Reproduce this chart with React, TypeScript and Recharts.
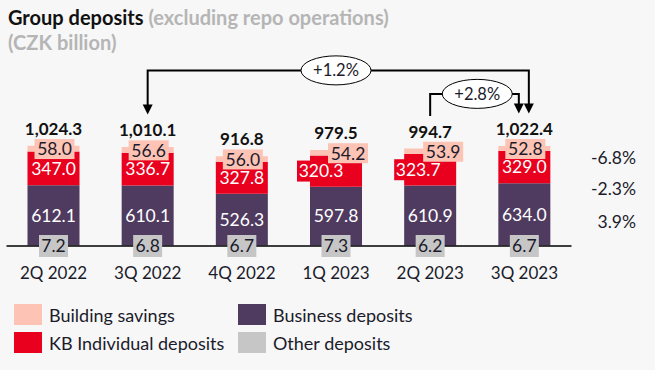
import React from "react";
import { BarChart, Bar, XAxis, YAxis, LabelList } from "recharts";

const quarters = ["2Q 2022", "3Q 2022", "4Q 2022", "1Q 2023", "2Q 2023", "3Q 2023"];
const otherDeposits = [7.2, 6.8, 6.7, 7.3, 6.2, 6.7];
const businessDeposits = [612.1, 610.1, 526.3, 597.8, 610.9, 634.0];
const individualDeposits = [347.0, 336.7, 327.8, 320.3, 323.7, 329.0];
const buildingSavings = [58.0, 56.6, 56.0, 54.2, 53.9, 52.8];
const totals = [1024.3, 1010.1, 916.8, 979.5, 994.7, 1022.4];
// year-on-year change, 3Q 2023: building savings, KB individual, business
const yoyChanges = ["-6.8%", "-2.3%", "3.9%"];
const growthFrom = ["3Q 2022", "2Q 2023"];
const growthTo = "3Q 2023";
const growthText = ["+1.2%", "+2.8%"];

const FONT = "Lato, 'Noto Sans', sans-serif";
const TEXT = "#1b1b2b";
const COLORS = {
  building: "#fdc3b5",
  individual: "#e8001e",
  business: "#4f3b5f",
  other: "#c6c6c6",
};

const series = [
  { key: "other", name: "Other deposits", color: COLORS.other },
  { key: "business", name: "Business deposits", color: COLORS.business },
  { key: "individual", name: "KB Individual deposits", color: COLORS.individual },
  { key: "building", name: "Building savings", color: COLORS.building },
];

const data = quarters.map((q, i) => ({
  quarter: q,
  other: otherDeposits[i],
  business: businessDeposits[i],
  individual: individualDeposits[i],
  building: buildingSavings[i],
  total: totals[i],
}));

// labels nudged sideways where they would collide in the original slide
const pinkShift = [1, 1, 1, 12, 13, 1];
const redShift = [0, 0, 0, -15, -12, 0];

// top-of-bar geometry, filled while the totals are drawn
const tops: Record<number, { cx: number; y: number }> = {};

function getBox(p: any) {
  const v = p.viewBox && p.viewBox.width != null ? p.viewBox : p;
  let x = Number(v.x), y = Number(v.y), w = Number(v.width), h = Number(v.height);
  if (h < 0) {
    y = y + h;
    h = -h;
  }
  return { x, y, w, h };
}

function boxText(text: string, cx: number, cy: number, w: number, h: number, fill: string | null, color: string) {
  return (
    <g>
      {fill && <rect x={cx - w / 2} y={cy - h / 2} width={w} height={h} fill={fill} />}
      <text
        x={cx}
        y={cy}
        dy="0.36em"
        textAnchor="middle"
        fontSize={17.5}
        fontFamily={FONT}
        fill={color}
      >
        {text}
      </text>
    </g>
  );
}

const otherLabel = (p: any) => {
  const b = getBox(p);
  const i = p.index;
  return boxText(otherDeposits[i].toFixed(1), b.x + b.w / 2, b.y + b.h, 29, 22, COLORS.other, TEXT);
};

const businessLabel = (p: any) => {
  const b = getBox(p);
  return boxText(businessDeposits[p.index].toFixed(1), b.x + b.w / 2, b.y + b.h / 2, 48, 21, null, "#fff");
};

const individualLabel = (p: any) => {
  const b = getBox(p);
  const i = p.index;
  return boxText(individualDeposits[i].toFixed(1), b.x + b.w / 2 + redShift[i], b.y + b.h / 2, 48, 21, COLORS.individual, "#fff");
};

const buildingLabel = (p: any) => {
  const b = getBox(p);
  const i = p.index;
  return boxText(buildingSavings[i].toFixed(1), b.x + b.w / 2 + pinkShift[i], b.y + b.h / 2 + 0.5, 40, 20, COLORS.building, TEXT);
};

function arrowHead(x: number, tip: number) {
  return <polygon points={`${x - 5},${tip - 10} ${x + 5},${tip - 10} ${x},${tip}`} fill="#000" />;
}

function growthNotes() {
  const to = quarters.indexOf(growthTo);
  const end = tops[to];
  if (!end) return null;
  const out: React.ReactNode[] = [];
  growthFrom.forEach((q, k) => {
    const s = tops[quarters.indexOf(q)];
    if (!s) return;
    const level = k === 0 ? end.y - 75.5 : end.y - 52;
    const endX = k === 0 ? end.cx + 4.5 : end.cx - 5.5;
    const startTip = s.y - 32.5;
    const endTip = end.y - 32.5;
    const both = k === 0;
    const mid = (s.cx + end.cx) / 2;
    out.push(
      <g key={q}>
        <path
          d={`M${s.cx},${both ? startTip - 9 : startTip} V${level} H${endX} V${endTip - 9}`}
          fill="none"
          stroke="#000"
          strokeWidth={2}
        />
        {both && arrowHead(s.cx, startTip)}
        {arrowHead(endX, endTip)}
        <ellipse cx={mid} cy={level} rx={35} ry={14.5} fill="#fff" stroke="#000" strokeWidth={1} />
        <text x={mid} y={level} dy="0.36em" textAnchor="middle" fontSize={16.5} fontFamily={FONT} fill={TEXT}>
          {growthText[k]}
        </text>
      </g>
    );
  });
  return out;
}

const totalLabel = (p: any) => {
  const b = getBox(p);
  const i = p.index;
  tops[i] = { cx: b.x + b.w / 2, y: b.y };
  const txt = totals[i].toLocaleString("en-US", { minimumFractionDigits: 1, maximumFractionDigits: 1 });
  return (
    <g>
      <text
        x={b.x + b.w / 2}
        y={b.y - 11}
        textAnchor="middle"
        fontSize={17}
        fontWeight={700}
        fontFamily={FONT}
        fill="#111"
      >
        {txt}
      </text>
      {i === quarters.length - 1 && growthNotes()}
    </g>
  );
};

const quarterTick = (p: any) => (
  <text x={p.x} y={p.y + 33} textAnchor="middle" fontSize={17} fontFamily={FONT} fill={TEXT}>
    {p.payload.value}
  </text>
);

const legendRows = [
  [series[3], series[1]],
  [series[2], series[0]],
];

export default function App() {
  return (
    <div
      style={{
        position: "absolute",
        left: 0,
        top: 0,
        width: 655,
        height: 370,
        background: "#f7f7f7",
        fontFamily: FONT,
        overflow: "hidden",
      }}
    >
      <div style={{ position: "absolute", left: 8, top: 5, fontSize: 20, fontWeight: 700, lineHeight: "25px" }}>
        <div>
          <span style={{ color: "#111" }}>Group deposits</span>{" "}
          <span style={{ color: "#b5b5b5" }}>(excluding repo operations)</span>
        </div>
        <div style={{ color: "#b5b5b5" }}>(CZK billion)</div>
      </div>

      <div style={{ position: "absolute", left: 0, top: 0 }}>
        <BarChart
          width={655}
          height={370}
          data={data}
          margin={{ top: 128.5, right: 83.5, bottom: 94, left: 6.5 }}
        >
          <XAxis
            dataKey="quarter"
            height={30}
            axisLine={{ stroke: "#000", strokeWidth: 1.3 }}
            tickLine={false}
            tickSize={0}
            tickMargin={0}
            interval={0}
            tick={quarterTick}
          />
          <YAxis hide domain={[0, 1200]} />
          <Bar dataKey="other" stackId="d" fill={COLORS.other} barSize={52} isAnimationActive={false}>
            <LabelList dataKey="other" content={otherLabel} />
          </Bar>
          <Bar dataKey="business" stackId="d" fill={COLORS.business} barSize={52} isAnimationActive={false}>
            <LabelList dataKey="business" content={businessLabel} />
          </Bar>
          <Bar dataKey="individual" stackId="d" fill={COLORS.individual} barSize={52} isAnimationActive={false}>
            <LabelList dataKey="individual" content={individualLabel} />
          </Bar>
          <Bar dataKey="building" stackId="d" fill={COLORS.building} barSize={52} isAnimationActive={false}>
            <LabelList dataKey="building" content={buildingLabel} />
            <LabelList dataKey="total" content={totalLabel} />
          </Bar>
        </BarChart>
      </div>

      {yoyChanges.map((t, i) => (
        <div
          key={t}
          style={{
            position: "absolute",
            right: 655 - 636,
            top: [148, 179, 212][i],
            fontSize: 17.5,
            lineHeight: "20px",
            color: TEXT,
          }}
        >
          {t}
        </div>
      ))}

      {legendRows.map((row, r) =>
        row.map((s, c) => (
          <div
            key={s.key}
            style={{
              position: "absolute",
              left: c === 0 ? 14 : 238,
              top: 304 + r * 28,
              display: "flex",
              alignItems: "center",
              height: 21,
            }}
          >
            <div style={{ width: 28, height: 21, background: s.color }} />
            <span style={{ marginLeft: 7, fontSize: 18, color: TEXT, whiteSpace: "nowrap" }}>{s.name}</span>
          </div>
        ))
      )}
    </div>
  );
}
